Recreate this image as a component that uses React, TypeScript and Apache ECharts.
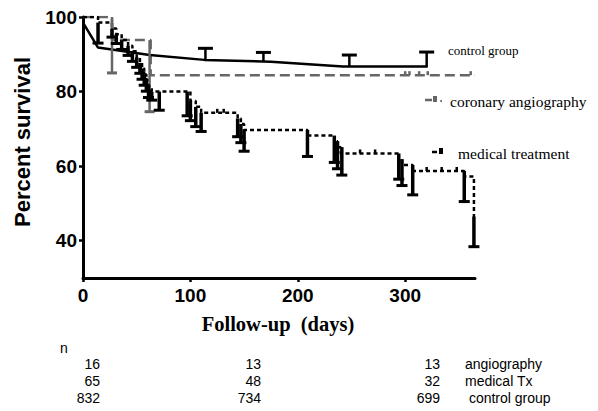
import React, { useEffect, useRef } from 'react';
import * as echarts from 'echarts';

const xTicks = [0, 100, 200, 300];
const yTicks = [40, 60, 80, 100];

// Control group: [day, survival %]
const controlLine = [[0, 98.5], [14, 91.8], [62, 89.8], [113, 88.5], [175, 88.0], [242, 86.7], [321, 86.7]];
// upward error bars: [day, line value, upper value]
const controlBars = [[114, 88.5, 91.6], [168, 88.0, 90.5], [248, 86.7, 89.8], [320, 86.7, 90.6]];

// Coronary angiography (step)
const angioSteps = [[0, 100], [27, 93.8], [63, 84.4], [365, 84.4]];
const angioBars = [[27, 100, 85], [62, 93.8, 74.6]];
const angioCensors = [[300, 84.4], [304, 84.4], [313, 84.4], [321, 84.4], [361, 84.4]];

// Medical treatment (step)
const medicalSteps = [
  [0, 100], [14, 98.5], [27, 96.9], [31, 95.4], [36, 93.8], [42, 92.3], [46, 90.8], [50, 89.2],
  [53, 87.7], [55, 86.2], [57, 84.6], [59, 83.1], [61, 81.5], [64, 80.0], [100, 77.5], [105, 75.9],
  [110, 74.3], [144, 72.8], [147, 71.3], [150, 69.7], [209, 68.2], [234, 66.7], [237, 65.1],
  [240, 63.4], [294, 61.9], [297, 60.3], [307, 58.7], [355, 57.2], [364, 46.5], [365, 46.5],
];
// downward error bars: [day, line value, lower value]
const medicalBars = [
  [14, 98.5, 93.0], [27, 96.9, 94.6], [31, 95.4, 92.9], [36, 93.8, 91.3], [42, 92.3, 89.7],
  [46, 90.8, 88.1], [50, 89.2, 86.5], [53, 87.7, 84.9], [55, 86.2, 83.3], [57, 84.6, 81.7],
  [59, 83.1, 80.1], [61, 81.5, 78.4], [64, 80.0, 77.7], [71, 80.0, 75.0], [97, 80.0, 73.5],
  [100, 77.5, 72.2], [105, 75.9, 70.6], [110, 74.3, 69.3], [144, 72.8, 67.9], [147, 71.3, 66.3],
  [150, 69.7, 64.0], [209, 69.7, 62.6], [234, 68.2, 61.0], [237, 66.7, 59.3], [241, 65.1, 57.6],
  [294, 63.4, 56.5], [297, 61.9, 54.8], [307, 60.3, 52.3], [355, 58.7, 50.5], [364, 46.5, 38.4],
];
const medicalCensors = [[125, 74.3], [131, 74.3], [258, 63.4], [272, 63.4], [320, 58.7], [334, 58.7], [348, 58.7]];

// number-at-risk table
const tableGroups = ['angiography', 'medical Tx', ' control group'];
const nStart = [16, 65, 832];
const nMid = [13, 48, 734];
const nEnd = [13, 32, 699];

const GRID = { left: 83, top: 17, width: 392, height: 261 };

function barSeries(data: number[][], color: string, capW: number, lw: number) {
  return {
    type: 'custom',
    data,
    encode: { x: 0, y: [1, 2] },
    clip: false,
    z: 5,
    renderItem: (_p: any, api: any) => {
      const x = api.value(0);
      const p1 = api.coord([x, api.value(1)]);
      const p2 = api.coord([x, api.value(2)]);
      return {
        type: 'group',
        children: [
          { type: 'line', shape: { x1: p1[0], y1: p1[1], x2: p2[0], y2: p2[1] }, style: { stroke: color, lineWidth: lw } },
          { type: 'line', shape: { x1: p2[0] - capW / 2, y1: p2[1], x2: p2[0] + capW / 2, y2: p2[1] }, style: { stroke: color, lineWidth: 3 } },
        ],
      };
    },
  };
}

function censorSeries(data: number[][], color: string) {
  return {
    type: 'custom',
    data,
    encode: { x: 0, y: 1 },
    z: 4,
    renderItem: (_p: any, api: any) => {
      const p = api.coord([api.value(0), api.value(1)]);
      return {
        type: 'line',
        shape: { x1: p[0], y1: p[1], x2: p[0], y2: p[1] - 4 },
        style: { stroke: color, lineWidth: 2.5 },
      };
    },
  };
}

export default function App() {
  const ref = useRef<HTMLDivElement>(null);
  useEffect(() => {
    if (!ref.current) return;
    const chart = echarts.init(ref.current, null, { renderer: 'svg' });
    const sans = 'Liberation Sans, Arial, sans-serif';
    const serif = 'Liberation Serif, Times New Roman, serif';
    const graphics: any[] = [
      { type: 'text', x: 22, y: 142, rotation: Math.PI / 2, style: { text: 'Percent survival', font: `bold 22px ${sans}`, fill: '#000', align: 'center', verticalAlign: 'middle' } },
      { type: 'text', x: 278, y: 324, style: { text: 'Follow-up  (days)', font: `bold 20.5px ${serif}`, fill: '#000', align: 'center', verticalAlign: 'middle' } },
      { type: 'text', x: 448, y: 50, style: { text: 'control group', font: `13px ${serif}`, fill: '#000', verticalAlign: 'middle' } },
      { type: 'text', x: 450, y: 101, style: { text: 'coronary angiography', font: `15.5px ${serif}`, fill: '#000', verticalAlign: 'middle' } },
      { type: 'text', x: 458, y: 153, style: { text: 'medical treatment', font: `15.5px ${serif}`, fill: '#000', verticalAlign: 'middle' } },
      { type: 'line', shape: { x1: 425, y1: 100, x2: 432, y2: 100 }, style: { stroke: '#666', lineWidth: 2.5 } },
      { type: 'rect', shape: { x: 433, y: 96, width: 4, height: 6 }, style: { fill: '#666' } },
      { type: 'circle', shape: { cx: 441, cy: 101, r: 1 }, style: { fill: '#666' } },
      { type: 'line', shape: { x1: 432, y1: 152, x2: 437, y2: 152 }, style: { stroke: '#000', lineWidth: 2.5 } },
      { type: 'rect', shape: { x: 439, y: 148, width: 4, height: 6 }, style: { fill: '#000' } },
      { type: 'text', x: 60, y: 348, style: { text: 'n', font: `14px ${sans}`, fill: '#000', verticalAlign: 'middle' } },
    ];
    tableGroups.forEach((g, i) => {
      const y = 364 + i * 17;
      graphics.push(
        { type: 'text', x: 100, y, style: { text: String(nStart[i]), font: `14px ${sans}`, fill: '#000', align: 'right', verticalAlign: 'middle' } },
        { type: 'text', x: 261, y, style: { text: String(nMid[i]), font: `14px ${sans}`, fill: '#000', align: 'right', verticalAlign: 'middle' } },
        { type: 'text', x: 440, y, style: { text: String(nEnd[i]), font: `14px ${sans}`, fill: '#000', align: 'right', verticalAlign: 'middle' } },
        { type: 'text', x: 465, y, style: { text: g, font: `14px ${sans}`, fill: '#000', verticalAlign: 'middle' } },
      );
    });

    const axisCommon = {
      axisLine: { show: true, lineStyle: { color: '#000', width: 3 } },
      axisTick: { show: true, length: 4, lineStyle: { color: '#000', width: 2.5 } },
      splitLine: { show: false },
      axisLabel: { color: '#000', fontFamily: sans, fontWeight: 'bold', fontSize: 19 },
    };

    chart.setOption({
      animation: false,
      grid: GRID,
      xAxis: {
        type: 'value', min: 0, max: 365, ...axisCommon,
        axisTick: { ...axisCommon.axisTick, customValues: xTicks },
        axisLabel: { ...axisCommon.axisLabel, customValues: xTicks, margin: 8 },
      },
      yAxis: {
        type: 'value', min: 30, max: 100, ...axisCommon,
        axisTick: { ...axisCommon.axisTick, customValues: yTicks },
        axisLabel: { ...axisCommon.axisLabel, customValues: yTicks, margin: 6 },
      },
      graphic: graphics,
      series: [
        {
          type: 'line', data: angioSteps, step: 'end', symbol: 'none', z: 2,
          lineStyle: { color: '#666', width: 2.5, type: [10, 5] },
        },
        {
          type: 'line', data: controlLine, symbol: 'none', z: 3,
          lineStyle: { color: '#000', width: 2.5 },
        },
        {
          type: 'line', data: medicalSteps, step: 'end', symbol: 'none', z: 3,
          lineStyle: { color: '#000', width: 2.5, type: [4, 3] },
        },
        barSeries(angioBars, '#666', 10, 2.5),
        censorSeries(angioCensors, '#666'),
        barSeries(controlBars, '#000', 15, 2.5),
        barSeries(medicalBars, '#000', 11, 3.5),
        censorSeries(medicalCensors, '#000'),
      ],
    });
    return () => chart.dispose();
  }, []);
  return <div ref={ref} style={{ position: 'absolute', left: 0, top: 0, width: 598, height: 411 }} />;
}
